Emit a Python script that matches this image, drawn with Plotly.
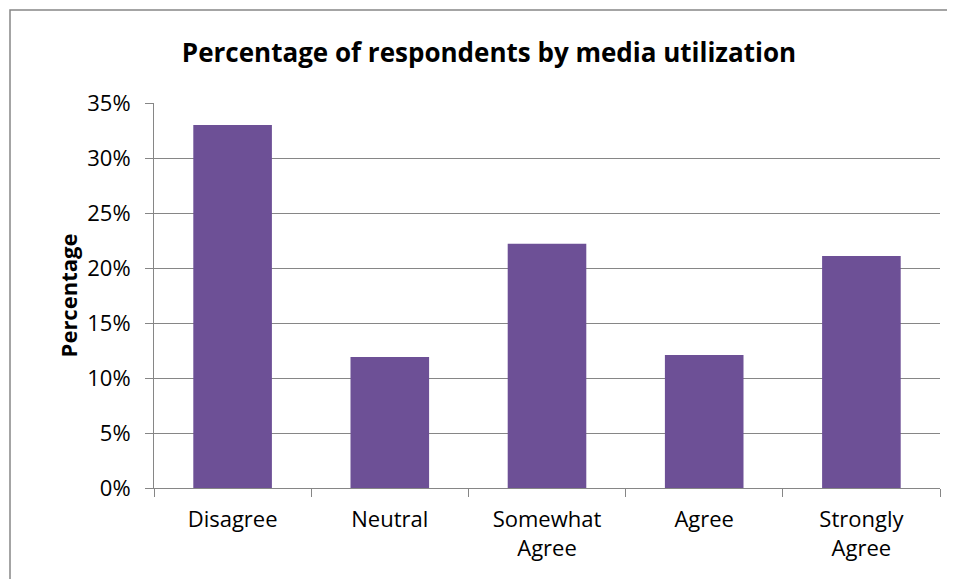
import plotly.graph_objects as go

categories = ["Disagree", "Neutral", "Somewhat<br>Agree", "Agree", "Strongly<br>Agree"]
values = [0.33, 0.119, 0.222, 0.121, 0.211]
y_ticks = [0, 0.05, 0.10, 0.15, 0.20, 0.25, 0.30, 0.35]
y_tick_labels = ["0%", "5%", "10%", "15%", "20%", "25%", "30%", "35%"]

FONT = "Open Sans"
W, H = 955, 579
# page body has an 8px margin, so figure coords = screen coords - 8
ML, MR, MT, MB = 146, 23, 95, 99
pw, ph = W - ML - MR, H - MT - MB

fig = go.Figure(go.Bar(
    x=categories, y=values,
    marker=dict(color="#6D5096", line=dict(width=0)),
))

fig.update_layout(
    width=W, height=H,
    margin=dict(l=ML, r=MR, t=MT, b=MB),
    paper_bgcolor="white", plot_bgcolor="white",
    bargap=0.5,
    showlegend=False,
    font=dict(family=FONT, color="#000000", size=22),
    title=dict(text="<b>Percentage of respondents by media utilization</b>",
               x=481 / W, xanchor="center", y=1 - 45 / H, yanchor="middle",
               font=dict(family=FONT, size=26, color="#000000")),
    xaxis=dict(
        showline=True, linecolor="#868686", linewidth=1,
        ticks="outside", tickson="boundaries", ticklen=8, tickcolor="#868686",
        showgrid=False, tickfont=dict(size=22), ticklabelstandoff=12,
    ),
    yaxis=dict(
        range=[0, 0.35], tickvals=y_ticks, ticktext=y_tick_labels,
        showline=True, linecolor="#868686", linewidth=1,
        ticks="outside", ticklen=8, tickcolor="#868686",
        showgrid=True, gridcolor="#868686", gridwidth=1,
        zeroline=False, tickfont=dict(size=22), ticklabelstandoff=10,
        title=dict(text="<b>Percentage</b>", font=dict(size=22), standoff=3),
    ),
    shapes=[dict(
        type="rect", xref="paper", yref="paper",
        x0=(2 - ML) / pw, x1=(W + 20 - ML) / pw,
        y0=-(MB + 20) / ph, y1=1 + (MT - 2) / ph,
        line=dict(color="#868686", width=1.5), fillcolor="rgba(0,0,0,0)", layer="below",
    )],
)

fig.write_html("out.html")
